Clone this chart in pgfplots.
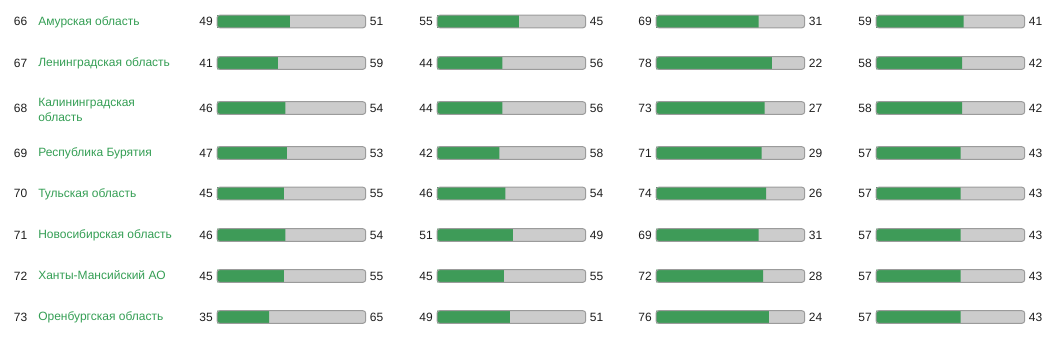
\documentclass[border=0pt]{standalone}
\usepackage{pgfplots}
\pgfplotsset{compat=1.18}
\usepackage{pgfplotstable}
\usepackage{fontspec}
\setmainfont{Liberation Sans}
\definecolor{bargreen}{RGB}{62,155,88}
\definecolor{namegreen}{RGB}{52,158,84}
\definecolor{bargray}{RGB}{204,204,204}
\definecolor{barborder}{RGB}{155,155,155}
\definecolor{numtext}{RGB}{30,30,30}

\pgfplotstableread{
y l r
21.5 49 51
63 41 59
108 46 54
153 47 53
193.5 45 55
235 46 54
276 45 55
317 35 65
}\tabA
\pgfplotstableread{
y l r
21.5 55 45
63 44 56
108 44 56
153 42 58
193.5 46 54
235 51 49
276 45 55
317 49 51
}\tabB
\pgfplotstableread{
y l r
21.5 69 31
63 78 22
108 73 27
153 71 29
193.5 74 26
235 69 31
276 72 28
317 76 24
}\tabC
\pgfplotstableread{
y l r
21.5 59 41
63 58 42
108 58 42
153 57 43
193.5 57 43
235 57 43
276 57 43
317 57 43
}\tabD

\newcommand\grp[2]{%
\begin{axis}[
  at={(#2,263.25pt)}, anchor=north west,
  scale only axis, width=111.5pt, height=263.25pt,
  xmin=0, xmax=100, ymin=0, ymax=351, y dir=reverse,
  axis lines=none, clip=false,
]
\addplot[xbar, bar shift=0pt, bar width=9.4pt, fill=bargray, draw=none, rounded corners=2pt] table[x expr=100, y=y] {#1};
\addplot[xbar, bar shift=0pt, bar width=9.4pt, fill=bargreen, draw=none] table[x=l, y=y] {#1};
\addplot[xbar, bar shift=0pt, bar width=9.4pt, fill=none, draw=barborder, line width=0.75pt, rounded corners=2pt] table[x expr=100, y=y] {#1};
\addplot[draw=none, mark=none, nodes near coords, point meta=explicit symbolic,
  nodes near coords style={anchor=east, inner sep=0pt, xshift=-3pt, font=\fontsize{9pt}{11pt}\selectfont, text=numtext}]
  table[x expr=0, y=y, meta=l] {#1};
\addplot[draw=none, mark=none, nodes near coords, point meta=explicit symbolic,
  nodes near coords style={anchor=west, inner sep=0pt, xshift=3pt, font=\fontsize{9pt}{11pt}\selectfont, text=numtext}]
  table[x expr=100, y=y, meta=r] {#1};
\end{axis}}

\begin{document}
\begin{tikzpicture}
\path[use as bounding box] (0,0) rectangle (792.75pt,263.25pt);
\grp{\tabA}{162.75pt}
\grp{\tabB}{327.75pt}
\grp{\tabC}{492pt}
\grp{\tabD}{657pt}
\begin{scope}[every node/.style={inner sep=0pt, font=\fontsize{9pt}{11.25pt}\selectfont}]
\foreach \r/\y/\n in {66/21.5/Амурская область, 67/63/Ленинградская область, 69/153/Республика Бурятия, 70/193.5/Тульская область, 71/235/Новосибирская область, 72/276/Ханты-Мансийский АО, 73/317/Оренбургская область}{
  \node[anchor=east, text=numtext] at (20.6pt, {(351-\y)*0.75pt}) {\r};
  \node[anchor=mid west, text=namegreen] at (28.5pt, {(351-\y)*0.75pt-0.3pt}) {\n};
}
\node[anchor=east, text=numtext] at (20.6pt, {(351-108)*0.75pt}) {68};
\node[anchor=west, text=namegreen, align=left] at (28.5pt, {(351-109.5)*0.75pt}) {Калининградская\\область};
\end{scope}
\end{tikzpicture}
\end{document}
